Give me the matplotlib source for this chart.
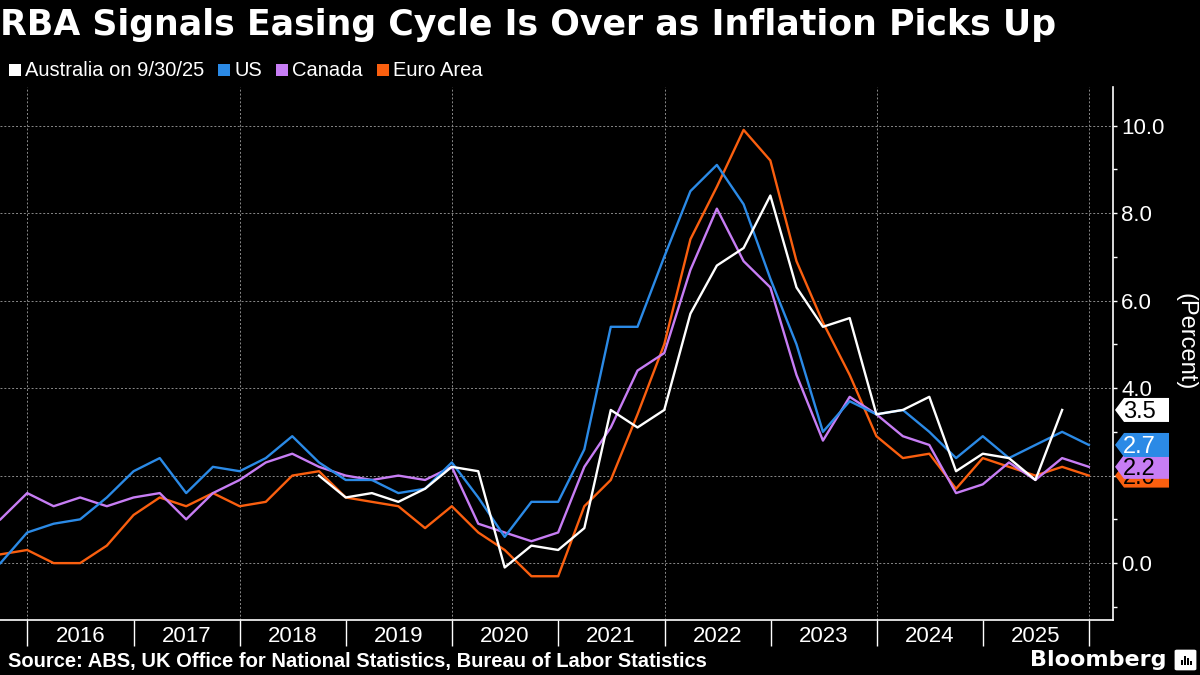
import numpy as np
import pandas as pd
import matplotlib
matplotlib.use("Agg")
import matplotlib.pyplot as plt
import matplotlib.dates as mdates
from matplotlib.patches import Polygon, Rectangle, FancyBboxPatch
from datetime import datetime

NARROW = ['Liberation Sans', 'DejaVu Sans']

# quarterly year-over-year CPI, percent
dates = pd.date_range('2015-09-30', periods=42, freq='QE')
us = [0.0, 0.7, 0.9, 1.0, 1.5, 2.1, 2.4, 1.6, 2.2, 2.1, 2.4, 2.9, 2.3, 1.9, 1.9, 1.6, 1.7, 2.3,
      1.5, 0.6, 1.4, 1.4, 2.6, 5.4, 5.4, 7.0, 8.5, 9.1, 8.2, 6.5, 5.0, 3.0, 3.7, 3.4, 3.5, 3.0,
      2.4, 2.9, 2.4, 2.7, 3.0, 2.7]
canada = [1.0, 1.6, 1.3, 1.5, 1.3, 1.5, 1.6, 1.0, 1.6, 1.9, 2.3, 2.5, 2.2, 2.0, 1.9, 2.0, 1.9, 2.2,
          0.9, 0.7, 0.5, 0.7, 2.2, 3.1, 4.4, 4.8, 6.7, 8.1, 6.9, 6.3, 4.3, 2.8, 3.8, 3.4, 2.9, 2.7,
          1.6, 1.8, 2.3, 1.9, 2.4, 2.2]
euro = [0.2, 0.3, 0.0, 0.0, 0.4, 1.1, 1.5, 1.3, 1.6, 1.3, 1.4, 2.0, 2.1, 1.5, 1.4, 1.3, 0.8, 1.3,
        0.7, 0.3, -0.3, -0.3, 1.3, 1.9, 3.4, 5.0, 7.4, 8.6, 9.9, 9.2, 6.9, 5.5, 4.3, 2.9, 2.4, 2.5,
        1.7, 2.4, 2.2, 2.0, 2.2, 2.0]
aus_dates = pd.date_range('2018-09-30', periods=29, freq='QE')
australia = [2.0, 1.5, 1.6, 1.4, 1.7, 2.2, 2.1, -0.1, 0.4, 0.3, 0.8, 3.5, 3.1, 3.5, 5.7, 6.8, 7.2,
             8.4, 6.3, 5.4, 5.6, 3.4, 3.5, 3.8, 2.1, 2.5, 2.4, 1.9, 3.5]

C_AUS = '#ffffff'
C_US = '#2b8ae6'
C_CAN = '#c77df4'
C_EUR = '#fa5f0f'

W, H = 1200, 675
fig = plt.figure(figsize=(12, 6.75), dpi=100, facecolor='black')
ax = fig.add_axes([0, 1 - 620 / H, 1113 / W, (620 - 87) / H])
ax.set_facecolor('black')

ax.plot(dates, euro, color=C_EUR, lw=1.7, zorder=3)
ax.plot(dates, canada, color=C_CAN, lw=1.7, zorder=4)
ax.plot(dates, us, color=C_US, lw=1.7, zorder=5)
ax.plot(aus_dates, australia, color=C_AUS, lw=1.7, zorder=6)

d2016 = mdates.date2num(datetime(2016, 1, 1))
ax.set_xlim(d2016 - 0.259 * 365.25, d2016 + 10.226 * 365.25)
ax.set_ylim(-1.30, 10.88)

# y axis on the right (2.0 sits under the end tags, as in the original)
ax.yaxis.tick_right()
ax.set_yticks(np.arange(0, 11, 2))
ax.set_yticks(np.arange(-1, 11, 2), minor=True)
ax.yaxis.set_major_formatter(matplotlib.ticker.FuncFormatter(
    lambda v, p: '' if abs(v - 2) < 1e-9 else '%.1f' % v))
ax.tick_params(axis='y', which='both', colors='white', length=3, width=1, pad=3,
               labelsize=16)
for t in ax.get_yticklabels():
    t.set_family(NARROW)

# x axis: year boundaries as ticks, labels mid-year
ax.xaxis.set_major_locator(mdates.YearLocator())
ax.xaxis.set_major_formatter(matplotlib.ticker.NullFormatter())
ax.xaxis.set_minor_locator(mdates.MonthLocator(bymonth=7))
ax.xaxis.set_minor_formatter(mdates.DateFormatter('%Y'))
ax.tick_params(axis='x', which='major', colors='white', length=19, width=1, direction='out')
ax.tick_params(axis='x', which='minor', length=0, colors='white', labelsize=16, pad=4)
for t in ax.get_xticklabels(minor=True):
    t.set_family(NARROW)

for s in ['left', 'top']:
    ax.spines[s].set_visible(False)
for s in ['right', 'bottom']:
    ax.spines[s].set_color('white')
    ax.spines[s].set_linewidth(1.2)

ax.grid(axis='y', which='major', color='#8a8a8a', linestyle=(0, (2, 2)), linewidth=0.7)
for yr in range(2016, 2027, 2):
    ax.axvline(datetime(yr, 1, 1), color='#8a8a8a', linestyle=(0, (2, 2)), linewidth=0.7, zorder=1)

# end-value tags
tr = ax.get_yaxis_transform()
hh = 12 / 43.75
tags = [(euro[-1], C_EUR, 'black'), (canada[-1], C_CAN, 'black'),
        (us[-1], C_US, 'white'), (australia[-1], C_AUS, 'black')]
for k, (v, fc, tc) in enumerate(tags):
    x0, x1, x2 = 1115 / 1113, 1124 / 1113, 1169 / 1113
    poly = Polygon([(x0, v), (x1, v + hh), (x2, v + hh), (x2, v - hh), (x1, v - hh)],
                   closed=True, facecolor=fc, edgecolor='none', transform=tr,
                   clip_on=False, zorder=20 + 2 * k)
    ax.add_patch(poly)
    ax.text(1139 / 1113, v, '%.1f' % v, transform=tr, ha='center', va='center_baseline',
            color=tc, fontsize=17, family=NARROW, zorder=21 + 2 * k, clip_on=False)

fig.text(1186 / W, 1 - 342 / H, '(Percent)', rotation=270, color='white', fontsize=17,
         family=NARROW, ha='center', va='center')

# title
fig.text(0, 1 - 25 / H, 'RBA Signals Easing Cycle Is Over as Inflation Picks Up',
         color='white', fontsize=25, fontweight='bold', family='DejaVu Sans',
         ha='left', va='center')

# legend
fig.canvas.draw()
renderer = fig.canvas.get_renderer()
xpos = 9
for lab, col in [('Australia on 9/30/25', C_AUS), ('US', C_US), ('Canada', C_CAN),
                 ('Euro Area', C_EUR)]:
    fig.patches.append(Rectangle((xpos / W, 1 - 76 / H), 12 / W, 12 / H, facecolor=col,
                                 edgecolor='none', transform=fig.transFigure))
    t = fig.text((xpos + 16) / W, 1 - 70 / H, lab, color='white', fontsize=14.5,
                 family=NARROW, ha='left', va='center')
    bb = t.get_window_extent(renderer)
    xpos = bb.x1 + 14

# footer
fig.text(8 / W, 1 - 662 / H, 'Source: ABS, UK Office for National Statistics, Bureau of Labor Statistics',
         color='white', fontsize=14.5, fontweight='bold', family=NARROW, ha='left', va='center')
fig.text(1167 / W, 1 - 660 / H, 'Bloomberg', color='white', fontsize=16, fontweight='semibold',
         family='DejaVu Sans', ha='right', va='center')
fig.patches.append(FancyBboxPatch((1177 / W, 1 - 669 / H), 17 / W, 18 / H,
                                  boxstyle='round,pad=0.002', facecolor='white', edgecolor='none',
                                  transform=fig.transFigure))
for bx, bh in [(1181, 5), (1184, 9), (1187, 7), (1190, 4)]:
    fig.patches.append(Rectangle((bx / W, 1 - 665 / H), 2 / W, bh / H, facecolor='black',
                                 edgecolor='none', transform=fig.transFigure))

fig.savefig('out.png', dpi=100, facecolor='black')
